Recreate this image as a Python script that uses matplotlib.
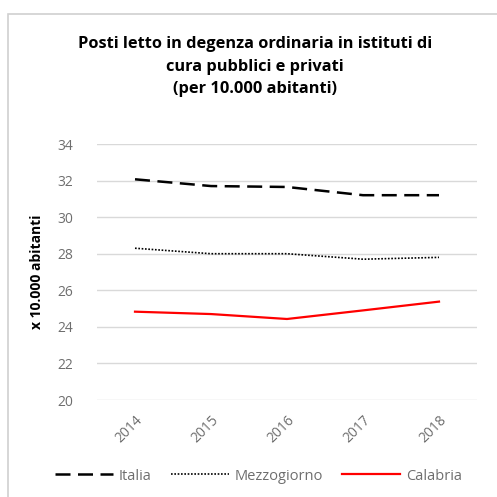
import matplotlib.pyplot as plt
from matplotlib.patches import Rectangle

# dati
anni = ['2014', '2015', '2016', '2017', '2018']
italia = [32.07, 31.7, 31.65, 31.2, 31.2]
mezzogiorno = [28.3, 28.0, 28.0, 27.7, 27.8]
calabria = [24.83, 24.7, 24.43, 24.9, 25.38]
yticks = [20, 22, 24, 26, 28, 30, 32, 34]

plt.rcParams['font.family'] = ['Open Sans', 'DejaVu Sans']

fig = plt.figure(figsize=(4.97, 4.97), dpi=100)
fig.patches.append(Rectangle((8 / 497, -0.01), 1.0, 1 - 14 / 497 + 0.01,
                             transform=fig.transFigure, fill=False,
                             edgecolor='#d0d0d0', linewidth=1.2))

ax = fig.add_axes([97 / 497, 1 - 400 / 497, 380 / 497, 256 / 497])
x = range(len(anni))
ax.plot(x, italia, color='black', linestyle=(0, (6, 3)), linewidth=1.8, label='Italia')
ax.plot(x, mezzogiorno, color='black', linestyle=(0, (1, 1)), linewidth=1.2, label='Mezzogiorno')
ax.plot(x, calabria, color='#ff0000', linewidth=1.6, label='Calabria')

ax.set_xlim(-0.5, len(anni) - 0.5)
ax.set_ylim(20, 34)
ax.set_yticks(yticks)
ax.set_xticks(list(x))
ax.set_xticklabels(anni, rotation=45, ha='right', rotation_mode='anchor')
ax.tick_params(axis='both', length=0, colors='#6e6e6e', labelsize=10)
ax.tick_params(axis='y', pad=17)
ax.tick_params(axis='x', pad=9)
for s in ax.spines.values():
    s.set_visible(False)
ax.grid(axis='y', color='#d9d9d9', linewidth=1)
ax.set_axisbelow(True)

ax.set_ylabel('x 10.000 abitanti', fontsize=10, fontweight='bold', labelpad=10)

fig.text(0.513, 1 - 36 / 497,
         'Posti letto in degenza ordinaria in istituti di\ncura pubblici e privati\n(per 10.000 abitanti)',
         ha='center', va='top', fontsize=11.8, fontweight='bold', linespacing=1.55)

leg = fig.legend(loc='center', bbox_to_anchor=(0.52, 1 - 476 / 497), ncol=3,
                 frameon=False, fontsize=10.5, handlelength=4.0, columnspacing=1.3,
                 handletextpad=0.4)
for t in leg.get_texts():
    t.set_color('#6e6e6e')

fig.savefig('out.png', dpi=100)
